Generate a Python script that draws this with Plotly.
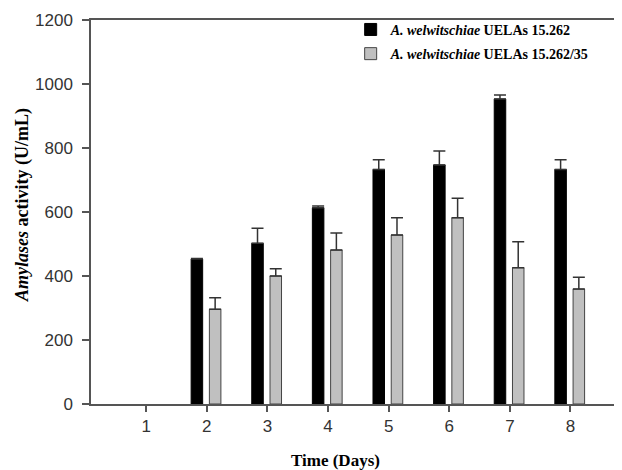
import plotly.graph_objects as go

days = [1, 2, 3, 4, 5, 6, 7, 8]
tick_labels = ["1", "2", "3", "4", "5", "6", "7", "8"]
strain_a_name = "<b><i>A. welwitschiae</i> UELAs 15.262</b>"
strain_b_name = "<b><i>A. welwitschiae</i> UELAs 15.262/35</b>"
strain_a = [None, 453, 502, 613, 733, 747, 953, 733]
strain_a_err = [None, 2, 47, 6, 30, 44, 13, 30]
strain_b = [None, 296, 400, 481, 528, 582, 426, 359]
strain_b_err = [None, 36, 23, 53, 54, 61, 81, 37]

fig = go.Figure()
fig.add_trace(go.Bar(
    x=days, y=strain_a, name=strain_a_name, legendgroup="a",
    width=0.19, offset=-0.258,
    marker=dict(color="#000000", line=dict(color="#000000", width=1)),
    error_y=dict(type="data", symmetric=False, array=strain_a_err,
                 arrayminus=[0]*len(days), color="#333333", thickness=1.5, width=6),
))
fig.add_trace(go.Bar(
    x=days, y=strain_b, name=strain_b_name, legendgroup="b",
    width=0.19, offset=0.043,
    marker=dict(color="#c0c0c0", line=dict(color="#444444", width=1)),
    error_y=dict(type="data", symmetric=False, array=strain_b_err,
                 arrayminus=[0]*len(days), color="#333333", thickness=1.5, width=6),
))

# the page adds an 8px body margin, so the figure is drawn 8px smaller
fig.update_layout(
    width=614, height=462,
    margin=dict(l=83, r=0, t=12, b=66),
    barmode="overlay",
    plot_bgcolor="white", paper_bgcolor="white",
    showlegend=True,
    legend=dict(x=0.489, y=1.016, xanchor="left", yanchor="top",
                bgcolor="rgba(0,0,0,0)",
                font=dict(family="Liberation Serif", size=14, color="#000"),
                tracegroupgap=3, itemwidth=30),
    annotations=[
        dict(text="<b>Time (Days)</b>", xref="paper", yref="paper",
             x=(335 - 91) / 531, y=-0.148, xanchor="center", yanchor="middle",
             showarrow=False,
             font=dict(family="Liberation Serif", size=17, color="#000")),
        dict(text="<b><i>Amylases</i> activity (U/mL)</b>", xref="paper", yref="paper",
             x=-0.13, y=0.518, xanchor="center", yanchor="middle",
             textangle=-90, showarrow=False,
             font=dict(family="Liberation Serif", size=18, color="#000")),
    ],
)
fig.update_xaxes(
    range=[0.09, 8.85], tickmode="array", tickvals=days, ticktext=tick_labels,
    showline=True, linecolor="#555555", linewidth=1.5, mirror=True,
    ticks="outside", ticklen=6, tickcolor="#555555", tickwidth=1.5,
    showgrid=False, zeroline=False, automargin=False,
    tickfont=dict(family="Liberation Sans", size=17, color="#333333"),
)
fig.update_yaxes(
    range=[0, 1200], tickvals=[0, 200, 400, 600, 800, 1000, 1200],
    showline=True, linecolor="#555555", linewidth=1.5,
    ticks="outside", ticklen=7, tickcolor="#555555", tickwidth=1.5,
    showgrid=False, zeroline=False, automargin=False, ticklabelstandoff=6,
    tickfont=dict(family="Liberation Sans", size=17, color="#333333"),
)

fig.write_html("out.html")
